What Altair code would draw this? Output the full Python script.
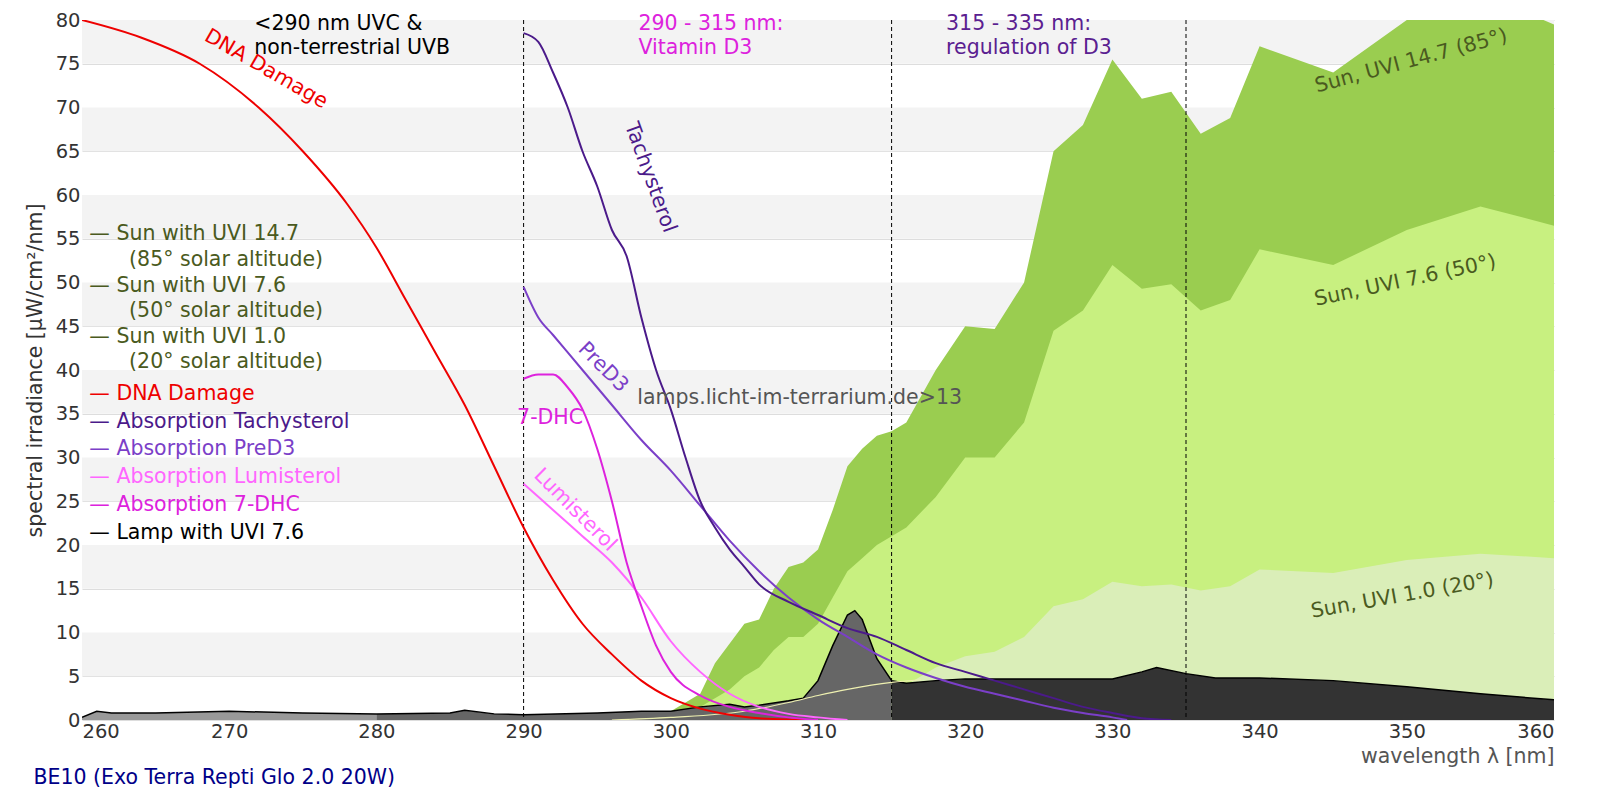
import altair as alt
import pandas as pd

# sun spectra
sun147_x = [298, 300, 302, 303, 305, 306, 307, 308, 309, 310, 311, 312, 313, 314, 315, 316, 318, 320, 322, 324, 326, 328, 330, 332, 334, 336, 338, 340, 345, 350, 355, 360]
sun147_y = [0, 1, 3, 6.5, 11, 11.5, 15, 17.5, 18, 19.5, 24, 29, 31, 32.5, 33, 34, 40, 45, 44.7, 50, 65, 68, 75.5, 71, 71.8, 67, 68.8, 77, 74, 80, 83, 79.5]
sun76_x = [300, 302, 304, 305, 306, 307, 308, 309, 310, 311, 312, 313, 314, 315, 316, 318, 320, 322, 324, 326, 328, 330, 332, 334, 336, 338, 340, 345, 350, 355, 360]
sun76_y = [0, 1.5, 3.5, 5, 6, 8, 9.5, 9.5, 11, 14, 17, 18.5, 20, 21, 22, 25.5, 30, 30, 34, 44.5, 46.8, 52, 49.3, 49.8, 46.8, 48, 53.8, 52, 56, 58.7, 56.5]
sun10_x = [308, 310, 312, 314, 316, 318, 320, 322, 324, 326, 328, 330, 332, 334, 336, 338, 340, 345, 350, 355, 360]
sun10_y = [0, 0.5, 1.5, 2.5, 4, 6, 7.3, 7.8, 9.5, 13, 13.8, 15.8, 15.3, 15.5, 14.8, 15.3, 17.2, 16.8, 18.3, 19, 18.5]

# lamp spectrum
lamp_x = [260, 261, 262, 265, 270, 275, 280, 285, 286, 288, 290, 295, 298, 300, 302, 304, 305, 306, 308, 309, 310, 311, 312, 312.5, 313, 314, 315, 316, 318, 320, 325, 330, 332, 333, 335, 337, 340, 345, 350, 355, 360]
lamp_y = [0.3, 1, 0.8, 0.8, 1, 0.8, 0.7, 0.8, 1.1, 0.7, 0.6, 0.8, 1, 1, 1.5, 1.8, 1.5, 1.7, 2.2, 2.5, 4.5, 8.5, 12, 12.5, 11.5, 7, 4.5, 4.2, 4.5, 4.7, 4.7, 4.7, 5.5, 6, 5.3, 4.8, 4.8, 4.5, 3.8, 3, 2.3]
pale_x = [296, 300, 305, 308, 310, 312, 315, 317]
pale_y = [0, 0.3, 1, 2, 2.8, 3.5, 4.3, 4.6]

# action / absorption spectra
dna_x = [260, 264, 268, 272, 275, 278, 280, 282, 284, 286, 288, 290, 292, 294, 296, 298, 300, 302, 304, 306, 310]
dna_y = [80, 78, 75, 70, 65, 59, 54, 48, 42, 36, 29, 22, 16, 11, 7.5, 4.5, 2.5, 1.3, 0.6, 0.2, 0]
tachy_x = [290, 291, 292, 293, 294, 295, 296, 297, 298, 299, 300, 301, 302, 303, 304, 305, 306, 308, 310, 312, 314, 316, 318, 320, 322, 324, 326, 328, 330, 332, 334]
tachy_y = [78.5, 77.5, 74, 70, 65, 61, 56, 53, 46, 40, 35.5, 30, 25, 22, 19.5, 17.5, 15.5, 13.5, 12, 10.5, 9.5, 8, 6.5, 5.5, 4.5, 3.5, 2.5, 1.5, 0.8, 0.2, 0]
pred3_x = [290, 291, 292, 294, 296, 298, 300, 302, 304, 306, 308, 310, 312, 314, 316, 318, 320, 322, 324, 326, 328, 330, 331]
pred3_y = [49.5, 46, 44, 40, 36, 32, 28.5, 24.5, 20.5, 17, 14, 11.5, 9.5, 7.5, 6, 4.8, 3.8, 3, 2.2, 1.4, 0.8, 0.3, 0]
dhc_x = [290, 291, 292, 293, 294, 295, 296, 297, 298, 299, 300, 302, 304, 306, 308, 310]
dhc_y = [39, 39.5, 39.5, 38, 35.5, 31, 25, 18, 13, 8.5, 5.5, 2.8, 1.5, 0.8, 0.3, 0]
lumi_x = [290, 292, 294, 296, 298, 300, 302, 304, 306, 308, 310, 312]
lumi_y = [27, 24, 21, 18, 14, 9, 5.5, 3, 1.5, 0.7, 0.3, 0]

legend_text = ["— Sun with UVI 14.7", "(85° solar altitude)", "— Sun with UVI 7.6", "(50° solar altitude)",
               "— Sun with UVI 1.0", "(20° solar altitude)", "— DNA Damage", "— Absorption Tachysterol",
               "— Absorption PreD3", "— Absorption Lumisterol", "— Absorption 7-DHC", "— Lamp with UVI 7.6"]
legend_x = [260.5, 263.2] * 3 + [260.5] * 6
legend_y = [55.5, 52.6, 49.6, 46.7, 43.8, 40.9, 37.3, 34.1, 31, 27.8, 24.6, 21.4]
legend_color = ["#4a5a20"] * 6 + ["#ee0000", "#4b1a8a", "#7b3fc8", "#ff66ff", "#dd22dd", "#000000"]

W, H = 1472, 700
FS = 20.5
xs = alt.Scale(domain=[260, 360], nice=False, zero=False)
ys = alt.Scale(domain=[0, 80], nice=False)
X = alt.X("x:Q", scale=xs, axis=alt.Axis(values=list(range(260, 361, 10)), title="wavelength λ [nm]",
                                          titleAnchor="end", titleFontSize=FS, titleFontWeight="normal",
                                          titleColor="#555", titlePadding=6, labelFontSize=19.5,
                                          labelColor="#333", grid=False, domain=False, ticks=False))
Y = alt.Y("y:Q", scale=ys, axis=alt.Axis(values=list(range(0, 81, 5)), title="spectral irradiance [µW/cm²/nm]",
                                          titleFontSize=FS, titleFontWeight="normal", titleColor="#333",
                                          labelFontSize=19.5, labelColor="#333", grid=True, gridColor="#ddd",
                                          domain=False, ticks=False, titlePadding=10))

bands = pd.DataFrame({"y": list(range(5, 80, 10)), "y2": list(range(10, 81, 10))})
bg = alt.Chart(bands).mark_rect(color="#f3f3f3").encode(
    x=alt.value(0), x2=alt.value(W), y=alt.Y("y:Q", scale=ys), y2="y2:Q")


def area(xv, yv, color):
    return alt.Chart(pd.DataFrame({"x": xv, "y": yv})).mark_area(color=color, clip=True).encode(x=X, y=Y)


def line(xv, yv, color, w=2, interp="monotone"):
    return alt.Chart(pd.DataFrame({"x": xv, "y": yv})).mark_line(
        color=color, strokeWidth=w, clip=True, interpolate=interp).encode(x=X, y=Y)


lamp = pd.DataFrame({"x": lamp_x, "y": lamp_y})
seg1 = lamp[lamp.x <= 280]
seg2 = lamp[(lamp.x >= 280) & (lamp.x <= 315)]
seg3 = lamp[lamp.x >= 315]

layers = [bg, area(sun147_x, sun147_y, "#9acd50"), area(sun76_x, sun76_y, "#c8f080"), area(sun10_x, sun10_y, "#daeeb8"),
          area(seg1.x, seg1.y, "#999999"), area(seg2.x, seg2.y, "#666666"), area(seg3.x, seg3.y, "#333333"),
          line(lamp_x, lamp_y, "#000", 1.5, "linear"), line(pale_x, pale_y, "#eef0b0", 1.2)]

vl = pd.DataFrame({"x": [290, 315, 335]})
layers.append(alt.Chart(vl).mark_rule(color="#000", strokeDash=[4, 3], strokeWidth=1).encode(x=X))

layers += [line(dna_x, dna_y, "#ee0000"), line(lumi_x, lumi_y, "#ff66ff"), line(dhc_x, dhc_y, "#dd22dd"),
           line(pred3_x, pred3_y, "#7b3fc8"), line(tachy_x, tachy_y, "#4b1a8a")]


def text(t, x, y, color, size=FS, angle=0, align="center"):
    return alt.Chart(pd.DataFrame({"x": [x], "y": [y], "t": [t]})).mark_text(
        color=color, fontSize=size, angle=angle, align=align, baseline="middle", font="DejaVu Sans"
    ).encode(x=alt.X("x:Q", scale=xs), y=alt.Y("y:Q", scale=ys), text="t:N")


legend = alt.Chart(pd.DataFrame({"x": legend_x, "y": legend_y, "t": legend_text, "c": legend_color})).mark_text(
    fontSize=FS, align="left", baseline="middle", font="DejaVu Sans").encode(
    x=alt.X("x:Q", scale=xs), y=alt.Y("y:Q", scale=ys), text="t:N", color=alt.Color("c:N", scale=None))
layers.append(legend)

olive = "#4a5a20"
layers += [
    text("DNA Damage", 272.5, 74.4, "#ee0000", angle=30),
    text("Tachysterol", 298.6, 62, "#4b1a8a", angle=70),
    text("PreD3", 295.4, 40.3, "#7b3fc8", angle=45),
    text("7-DHC", 291.8, 34.5, "#dd22dd"),
    text("Lumisterol", 293.5, 24, "#ff66ff", angle=45),
    text("Sun, UVI 14.7 (85°)", 350.3, 75.3, olive, angle=345),
    text("Sun, UVI 7.6 (50°)", 349.9, 50.2, olive, angle=348),
    text("Sun, UVI 1.0 (20°)", 349.7, 14.2, olive, angle=350),
    text("lamps.licht-im-terrarium.de>13", 308.75, 36.8, "#555"),
    text("<290 nm UVC &", 271.7, 79.6, "#000", align="left"),
    text("non-terrestrial UVB", 271.7, 76.8, "#000", align="left"),
    text("290 - 315 nm:", 297.8, 79.6, "#dd22dd", align="left"),
    text("Vitamin D3", 297.8, 76.8, "#dd22dd", align="left"),
    text("315 - 335 nm:", 318.7, 79.6, "#5a2090", align="left"),
    text("regulation of D3", 318.7, 76.8, "#5a2090", align="left"),
    text("BE10 (Exo Terra Repti Glo 2.0 20W)", 256.7, -6.6, "#000088", align="left"),
]

chart = alt.layer(*layers).properties(
    width=W, height=H, autosize=alt.AutoSizeParams(type="none"),
    padding={"left": 74, "top": 12, "right": 10, "bottom": 80},
).configure_view(stroke=None).configure_axis(labelFont="DejaVu Sans", titleFont="DejaVu Sans")

chart.save("out.html", embed_options={"renderer": "svg", "actions": False})
